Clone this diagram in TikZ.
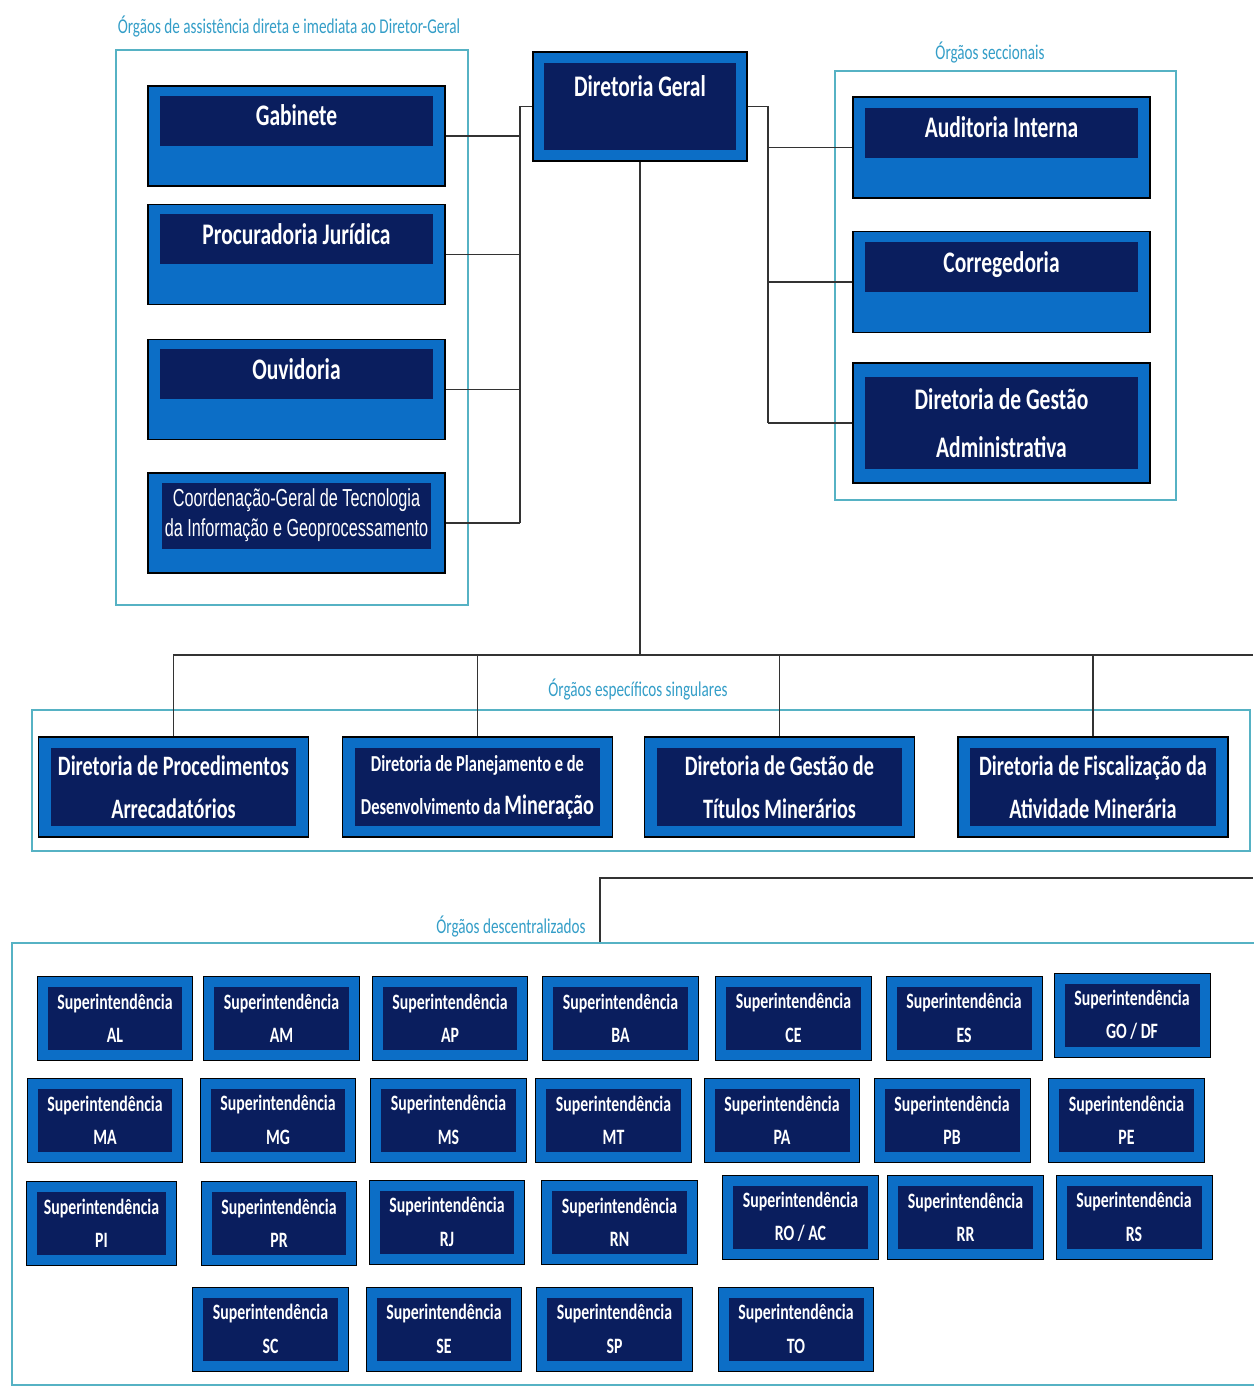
\documentclass[tikz,border=0pt]{standalone}
\usepackage{fontspec}
\newfontfamily\boxfont{Carlito}[FakeStretch=0.72]
\newfontfamily\cgtifont{Liberation Sans}[FakeStretch=0.66]

\definecolor{orgblue}{RGB}{12,110,198}
\definecolor{orgnavy}{RGB}{10,30,94}
\definecolor{orgframe}{RGB}{86,178,196}
\definecolor{orglabel}{RGB}{52,158,200}

\tikzset{
  unit/.style={draw=black, fill=orgblue, line width=0.9pt, inner sep=0pt},
  band/.style={fill=orgnavy, text=white, inner sep=0pt, align=center,
    font=\boxfont\bfseries\fontsize{17}{27}\selectfont},
  topband/.style={band, anchor=north, minimum width=5.46cm,
    text height=0.6cm, text depth=0.4cm},
  midband/.style={band, minimum width=4.92cm, minimum height=1.56cm,
    font=\boxfont\bfseries\fontsize{16}{24.5}\selectfont},
  supbox/.style={fill=orgnavy, draw=orgblue, line width=0.2cm,
    preaction={draw=black, line width=0.24cm},
    minimum width=2.9cm, minimum height=1.46cm, inner sep=0pt,
    text=white, align=center, font=\boxfont\bfseries\fontsize{12.5}{19}\selectfont},
  group/.style={draw=orgframe, fill=white, line width=1.1pt, inner sep=0pt},
  grouplabel/.style={text=orglabel, inner sep=1pt,
    font=\boxfont\fontsize{12}{14}\selectfont},
  link/.style={draw=black!80, line width=0.9pt}
}

\begin{document}
\begin{tikzpicture}[x=0.02cm, y=-0.02cm]

        \fill[white] (0,0) rectangle (1253,1388);
        \useasboundingbox (0,0) rectangle (1253,1388);

        % grupos
        \node[group, minimum width=7.04cm, minimum height=11.1cm] (gAssist) at (292,327.5) {};
        \node[group, minimum width=6.82cm, minimum height=8.58cm] (gSecc) at (1005.5,285.5) {};
        \node[group, minimum width=24.36cm, minimum height=2.82cm] (gEsp) at (641,780.5) {};
        \node[group, minimum width=25cm, minimum height=8.84cm] (gDesc) at (637,1164) {};

        \node[grouplabel] (lAssist) at (289,27) {Órgãos de assistência direta e imediata ao Diretor-Geral};
        \node[grouplabel] (lSecc) at (990,53) {Órgãos seccionais};
        \node[grouplabel] (lEsp) at (638,690) {Órgãos específicos singulares};
        \node[grouplabel] (lDesc) at (511,927) {Órgãos descentralizados};

        % direcao
        \node[unit, minimum width=4.28cm, minimum height=2.18cm] (dg) at (640,106.5) {};
        \node[band, anchor=north, minimum width=3.84cm, text height=0.68cm, text depth=1.06cm]
          (dgT) at ([yshift=-0.22cm]dg.north) {Diretoria Geral};

        \begin{scope}[every node/.append style={minimum width=5.94cm, minimum height=2cm}]
          \node[unit] (gab)  at (296.5,136)   {};
          \node[unit] (proc) at (296.5,254.5) {};
          \node[unit] (ouv)  at (296.5,389.5) {};
          \node[unit] (cgti) at (296.5,523)   {};
        \end{scope}
        \node[topband] (gabT)  at ([yshift=-0.2cm]gab.north)  {Gabinete};
        \node[topband] (procT) at ([yshift=-0.2cm]proc.north) {Procuradoria Jurídica};
        \node[topband] (ouvT)  at ([yshift=-0.2cm]ouv.north)  {Ouvidoria};
        \node[band, anchor=north, minimum width=5.4cm, minimum height=1.32cm,
          font=\cgtifont\fontsize{14}{17}\selectfont] (cgtiT) at ([yshift=-0.2cm]cgti.north)
          {Coordenação-Geral de Tecnologia\\da Informação e Geoprocessamento};

        \node[unit, minimum width=5.94cm, minimum height=2.02cm] (aud)  at (1001.5,147.5) {};
        \node[unit, minimum width=5.94cm, minimum height=2.02cm] (corr) at (1001.5,282)   {};
        \node[unit, minimum width=5.94cm, minimum height=2.4cm]  (dga)  at (1001.5,423)   {};
        \node[topband] (audT)  at ([yshift=-0.22cm]aud.north)  {Auditoria Interna};
        \node[topband] (corrT) at ([yshift=-0.22cm]corr.north) {Corregedoria};
        \node[band, minimum width=5.46cm, minimum height=1.86cm] (dgaT) at (dga.center)
          {Diretoria de Gestão\\Administrativa};

        % especificos singulares
        \begin{scope}[every node/.append style={minimum width=5.4cm, minimum height=2cm}]
          \node[unit] (dpa)  at (173.5,787)  {};
          \node[unit] (dpdm) at (477.5,787)  {};
          \node[unit] (dgtm) at (779.5,787)  {};
          \node[unit] (dfam) at (1093,787)   {};
        \end{scope}
        \node[midband] (dpaT)  at (dpa.center)  {Diretoria de Procedimentos\\Arrecadatórios};
        \node[midband] (dpdmT) at (dpdm.center) {\fontsize{13}{21.5}\selectfont Diretoria de Planejamento e de\\
          \fontsize{13}{21.5}\selectfont Desenvolvimento da {\fontsize{16}{21.5}\selectfont Mineração}};
        \node[midband] (dgtmT) at (dgtm.center) {Diretoria de Gestão de\\Títulos Minerários};
        \node[midband] (dfamT) at (dfam.center) {Diretoria de Fiscalização da\\Atividade Minerária};

        % descentralizados
        \begin{scope}[every node/.style={supbox}]
          \node (sAL)   at (115,1018)    {Superintendência\\AL};
          \node (sAM)   at (281.5,1018)  {Superintendência\\AM};
          \node (sAP)   at (450,1018)    {Superintendência\\AP};
          \node (sBA)   at (620.5,1018)  {Superintendência\\BA};
          \node (sCE)   at (793.5,1018)  {Superintendência\\CE};
          \node (sES)   at (964,1018)    {Superintendência\\ES};
          \node (sGODF) at (1132,1015)   {Superintendência\\GO / DF};

          \node (sMA) at (105,1120)    {Superintendência\\MA};
          \node (sMG) at (278,1120)    {Superintendência\\MG};
          \node (sMS) at (448.5,1120)  {Superintendência\\MS};
          \node (sMT) at (613.5,1120)  {Superintendência\\MT};
          \node (sPA) at (782,1120)    {Superintendência\\PA};
          \node (sPB) at (952,1120)    {Superintendência\\PB};
          \node (sPE) at (1126.5,1120) {Superintendência\\PE};

          \node[minimum width=2.78cm] (sPI) at (101.5,1223) {Superintendência\\PI};
          \node (sPR)   at (279,1223)    {Superintendência\\PR};
          \node (sRJ)   at (447,1222)    {Superintendência\\RJ};
          \node (sRN)   at (619.5,1222)  {Superintendência\\RN};
          \node (sROAC) at (800.5,1217)  {Superintendência\\RO / AC};
          \node (sRR)   at (965.5,1217)  {Superintendência\\RR};
          \node (sRS)   at (1134,1217)   {Superintendência\\RS};

          \node (sSC) at (270.5,1329) {Superintendência\\SC};
          \node (sSE) at (444,1329)   {Superintendência\\SE};
          \node (sSP) at (614.5,1329) {Superintendência\\SP};
          \node (sTO) at (796,1329)   {Superintendência\\TO};
        \end{scope}

        % ligacoes
        \coordinate (lbus) at (520,523);
        \draw[link] (dg.west) -| (lbus);
        \draw[link] (gab.east)  -- (gab.east -| lbus);
        \draw[link] (proc.east) -- (proc.east -| lbus);
        \draw[link] (ouv.east)  -- (ouv.east -| lbus);
        \draw[link] (cgti.east) -- (lbus);

        \coordinate (rbus) at (768,423);
        \draw[link] (dg.east) -| (rbus);
        \draw[link] (aud.west -| rbus)  -- (aud.west);
        \draw[link] (corr.west -| rbus) -- (corr.west);
        \draw[link] (rbus) -- (dga.west);

        \coordinate (mend) at (1253,655);
        \draw[link] (dg.south) -- (dg.south |- mend);
        \draw[link] (dpa.north) |- (mend);
        \draw[link] (dpdm.north) -- (dpdm.north |- mend);
        \draw[link] (dgtm.north) -- (dgtm.north |- mend);
        \draw[link] (dfam.north) -- (dfam.north |- mend);

        \coordinate (dcorner) at (600,878);
        \coordinate (dend) at (1253,878);
        \draw[link] (gDesc.north -| dcorner) -- (dcorner) -- (dend);

      \end{tikzpicture}
\end{document}
